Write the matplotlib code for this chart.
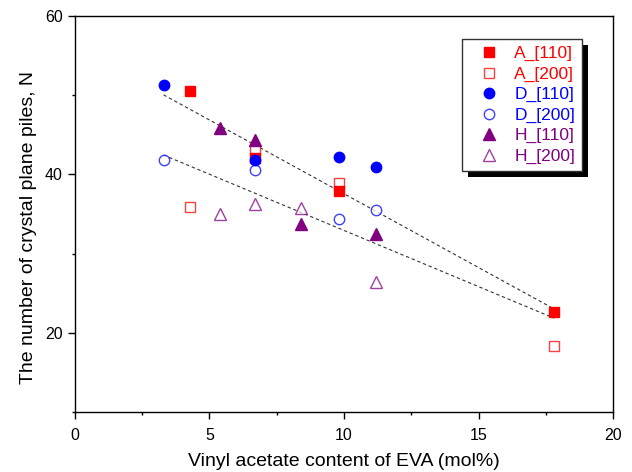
import matplotlib
matplotlib.use('Agg')
import matplotlib.pyplot as plt
from matplotlib.patches import Rectangle
from matplotlib.transforms import IdentityTransform
from matplotlib.ticker import MultipleLocator
import numpy as np

plt.rcParams['font.family'] = ['Liberation Sans', 'DejaVu Sans']

# vinyl acetate content (mol%) and crystal plane piles N
xA = [4.3, 6.7, 9.8, 17.8]
A_110 = [50.5, 42.0, 37.9, 22.65]
A_200 = [35.9, 43.1, 38.85, 18.3]

xD = [3.3, 6.7, 9.8, 11.2]
D_110 = [51.26, 41.8, 42.2, 40.87]
D_200 = [41.8, 40.5, 34.35, 35.48]

xH = [5.4, 6.7, 8.4, 11.2]
H_110 = [45.8, 44.3, 33.7, 32.45]
H_200 = [35.0, 36.2, 35.8, 26.4]

red = '#ff0000'
blue = '#0000ff'
purple = '#800080'

fig = plt.figure(figsize=(6.32, 4.72), dpi=100)
ax = fig.add_axes([0.1182, 0.1265, 0.8522, 0.8402])

# linear fits through all [110] and all [200] points
x_all = np.array(xA + xD + xH)
for ys in (A_110 + D_110 + H_110, A_200 + D_200 + H_200):
    k, b = np.polyfit(x_all, ys, 1)
    xx = np.array([x_all.min(), x_all.max()])
    ax.plot(xx, k * xx + b, color='#333333', lw=0.8, ls=(0, (3, 2.5)), zorder=2)

open_kw = dict(mfc='white', mew=1, alpha=0.75)
ax.plot(xA, A_200, 's', mec=red, ms=6.5, label='A_[200]', zorder=3, **open_kw)
ax.plot(xA, A_110, 's', color=red, ms=6.5, label='A_[110]', zorder=3.1)
ax.plot(xD, D_200, 'o', mec=blue, ms=7.5, label='D_[200]', zorder=3.2, **open_kw)
ax.plot(xD, D_110, 'o', color=blue, ms=7.5, label='D_[110]', zorder=3.3)
ax.plot(xH, H_200, '^', mec=purple, ms=8, label='H_[200]', zorder=3.4, **open_kw)
ax.plot(xH, H_110, '^', color=purple, ms=8, label='H_[110]', zorder=3.5)

ax.set_xlim(0, 20)
ax.set_ylim(10, 60)
ax.xaxis.set_major_locator(MultipleLocator(5))
ax.xaxis.set_minor_locator(MultipleLocator(2.5))
ax.yaxis.set_major_locator(MultipleLocator(20))
ax.yaxis.set_minor_locator(MultipleLocator(10))
ax.tick_params(which='major', direction='out', length=5, width=1, labelsize=11.5)
ax.tick_params(axis='x', which='major', pad=6.5)
ax.tick_params(which='minor', direction='out', length=2.5, width=1)
for s in ax.spines.values():
    s.set_linewidth(1)

ax.set_xlabel('Vinyl acetate content of EVA (mol%)', fontsize=14, labelpad=7)
ax.set_ylabel('The number of crystal plane piles, N', fontsize=14, labelpad=6)
ax.yaxis.label.set_y(0.467)

# legend in the order of the reference
handles, labels = ax.get_legend_handles_labels()
order = ['A_[110]', 'A_[200]', 'D_[110]', 'D_[200]', 'H_[110]', 'H_[200]']
hmap = dict(zip(labels, handles))
leg = ax.legend([hmap[l] for l in order], order,
                loc='upper right', bbox_to_anchor=(0.942, 0.941), borderaxespad=0,
                fontsize=12.5, numpoints=1, handlelength=2.3, handletextpad=0.29,
                labelspacing=0.3, borderpad=0.4, frameon=True, fancybox=False,
                edgecolor='#333333', framealpha=1)
leg.get_frame().set_linewidth(1)
leg.set_zorder(5)
for t, c in zip(leg.get_texts(), [red, red, blue, blue, purple, purple]):
    t.set_color(c)

fig.canvas.draw()
bb = leg.get_window_extent()
shadow = Rectangle((bb.x0 + 6, bb.y0 - 6), bb.width, bb.height, transform=IdentityTransform(),
                   fc='black', ec='none', zorder=4.5, clip_on=False)
ax.add_patch(shadow)

fig.savefig('out.png', dpi=100)
